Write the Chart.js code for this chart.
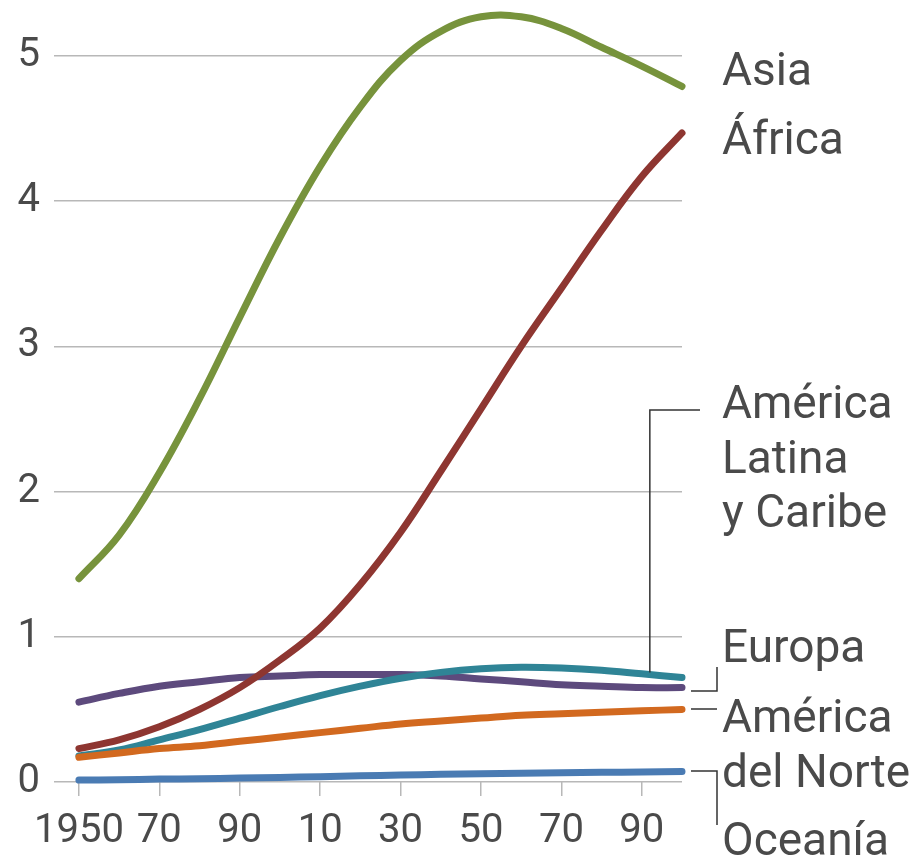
<!DOCTYPE html>
<html>
<head>
<meta charset="utf-8">
<script src="https://cdn.jsdelivr.net/npm/chart.js@4"></script>
<style>
    body { margin: 0; background: #fff; }
    #wrap { width: 918px; height: 864px; }
</style>
</head>
<body>
<div id="wrap"><canvas id="population-chart"></canvas></div>
<script>
// Population by region, billions (UN projection)
const years = [1950, 1960, 1970, 1980, 1990, 2000, 2010, 2020, 2030, 2040, 2050, 2060, 2070, 2080, 2090, 2100];
const asia = [1.40, 1.70, 2.13, 2.64, 3.20, 3.75, 4.24, 4.65, 4.97, 5.17, 5.27, 5.27, 5.19, 5.06, 4.93, 4.79];
const africa = [0.23, 0.29, 0.38, 0.50, 0.65, 0.84, 1.06, 1.36, 1.72, 2.14, 2.57, 3.00, 3.40, 3.80, 4.17, 4.47];
const northAmerica = [0.17, 0.20, 0.23, 0.25, 0.28, 0.31, 0.34, 0.37, 0.40, 0.42, 0.44, 0.46, 0.47, 0.48, 0.49, 0.50];
const latinAmerica = [0.18, 0.22, 0.29, 0.36, 0.44, 0.52, 0.595, 0.66, 0.715, 0.755, 0.78, 0.79, 0.785, 0.77, 0.745, 0.72];
const europe = [0.55, 0.61, 0.66, 0.69, 0.72, 0.73, 0.74, 0.74, 0.74, 0.73, 0.71, 0.69, 0.67, 0.66, 0.65, 0.65];
const oceania = [0.013, 0.016, 0.020, 0.023, 0.027, 0.031, 0.037, 0.043, 0.048, 0.053, 0.057, 0.061, 0.064, 0.067, 0.069, 0.072];

const xTicks = [1950, 1970, 1990, 2010, 2030, 2050, 2070, 2090];
const xTickLabels = ['1950', '70', '90', '10', '30', '50', '70', '90'];
const yTicks = [0, 1, 2, 3, 4, 5];

const TEXT = '#4a4a4a';
const GRID = '#b8b8b8';
const FONT = 'Roboto, "Open Sans", sans-serif';

function toPoints(values) {
    return values.map((v, i) => ({ x: years[i], y: v }));
}

function series(label, values, color) {
    return {
        label: label,
        data: toPoints(values),
        borderColor: color,
        backgroundColor: color,
        borderWidth: 7,
        borderCapStyle: 'round',
        borderJoinStyle: 'round',
        pointRadius: 0,
        tension: 0.4,
        clip: false
    };
}

// first dataset is drawn on top
const datasets = [
    series('Asia', asia, '#77933c'),
    series('África', africa, '#8e3631'),
    series('América del Norte', northAmerica, '#d2691f'),
    series('América Latina y Caribe', latinAmerica, '#2f8496'),
    series('Europa', europe, '#5d4a7d'),
    series('Oceanía', oceania, '#4a7bb3')
];

// Right-hand labels and their leader lines
const sideLabels = {
    id: 'sideLabels',
    afterDraw(chart) {
        const ctx = chart.ctx;
        const x = chart.scales.x;
        const y = chart.scales.y;
        const right = chart.chartArea.right;
        const tx = right + 40;

        ctx.save();
        ctx.fillStyle = TEXT;
        ctx.font = '46px ' + FONT;
        ctx.textAlign = 'left';
        ctx.textBaseline = 'alphabetic';
        const lines = [
            ['Asia', 85], ['África', 154],
            ['América', 418], ['Latina', 473], ['y Caribe', 527],
            ['Europa', 662],
            ['América', 732], ['del Norte', 787],
            ['Oceanía', 855]
        ];
        lines.forEach(([t, by]) => ctx.fillText(t, tx, by));

        ctx.strokeStyle = '#333';
        ctx.lineWidth = 1.5;
        ctx.beginPath();
        // Latin America leader
        const lx = x.getPixelForValue(2092);
        ctx.moveTo(lx, y.getPixelForValue(latinAmerica[latinAmerica.length - 1]) - 5);
        ctx.lineTo(lx, 410);
        ctx.lineTo(right + 18, 410);
        // Europe bracket
        ctx.moveTo(right + 35, 667);
        ctx.lineTo(right + 35, 691);
        ctx.lineTo(right + 9, 691);
        // North America
        ctx.moveTo(right + 9, 709);
        ctx.lineTo(right + 35, 709);
        // Oceania
        ctx.moveTo(right + 9, 771);
        ctx.lineTo(right + 35, 771);
        ctx.lineTo(right + 35, 825);
        ctx.stroke();
        ctx.restore();
    }
};

const ctx = document.getElementById('population-chart');
new Chart(ctx, {
    type: 'line',
    data: { datasets: datasets },
    plugins: [sideLabels],
    options: {
        responsive: true,
        maintainAspectRatio: false,
        animation: false,
        layout: { padding: { top: 10, right: 236, left: 0, bottom: 0 } },
        plugins: {
            legend: { display: false },
            tooltip: { enabled: false }
        },
        scales: {
            x: {
                type: 'linear',
                min: 1943.8,
                max: 2100,
                afterBuildTicks: scale => { scale.ticks = xTicks.map(v => ({ value: v })); },
                afterFit: scale => { scale.height = 82; },
                border: { display: false },
                grid: {
                    drawOnChartArea: false,
                    drawTicks: true,
                    tickLength: 14,
                    color: GRID,
                    lineWidth: 1.5
                },
                ticks: {
                    padding: 12,
                    maxRotation: 0,
                    autoSkip: false,
                    color: TEXT,
                    font: { family: FONT, size: 40 },
                    callback: value => xTickLabels[xTicks.indexOf(value)]
                }
            },
            y: {
                min: 0,
                max: 5.124,
                afterBuildTicks: scale => { scale.ticks = yTicks.map(v => ({ value: v })); },
                afterFit: scale => { scale.width = 54; },
                border: { display: false },
                grid: {
                    drawTicks: false,
                    color: GRID,
                    lineWidth: 1.5
                },
                ticks: {
                    padding: 14,
                    color: TEXT,
                    font: { family: FONT, size: 40 }
                }
            }
        }
    }
});
</script>
</body>
</html>
